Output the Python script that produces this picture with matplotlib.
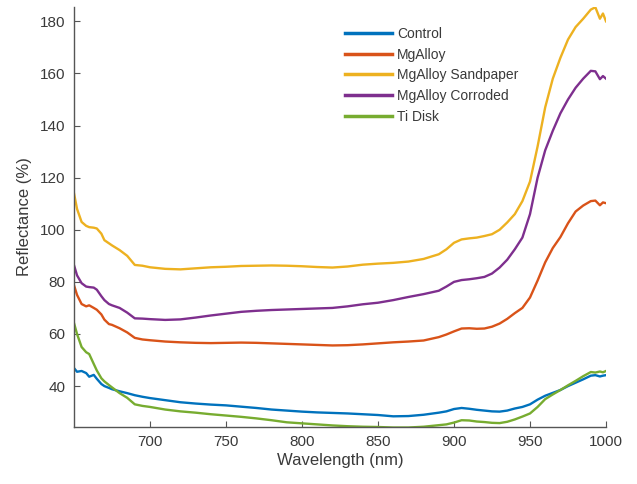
import matplotlib
matplotlib.use("Agg")
import matplotlib.pyplot as plt

wavelength = [650, 652, 655, 658, 660, 663, 665, 668, 670, 673, 675, 680, 685, 690, 695,
              700, 710, 720, 730, 740, 750, 760, 770, 780, 790, 800, 810, 820, 830, 840,
              850, 860, 870, 880, 890, 895, 900, 905, 910, 915, 920, 925, 930, 935, 940,
              945, 950, 955, 960, 965, 970, 975, 980, 985, 990, 993, 996, 998, 1000]

control = [46.9, 45.5, 45.8, 45.0, 43.6, 44.3, 42.8, 40.8, 40.0, 39.3, 38.8, 38.0, 37.3, 36.5, 35.9,
           35.4, 34.6, 33.8, 33.3, 32.9, 32.6, 32.1, 31.6, 31.0, 30.6, 30.2, 29.9, 29.7, 29.5, 29.2,
           28.9, 28.4, 28.5, 29.0, 29.8, 30.3, 31.2, 31.6, 31.3, 30.9, 30.6, 30.3, 30.2, 30.6, 31.4,
           32.0, 33.0, 34.8, 36.3, 37.4, 38.5, 40.0, 41.3, 42.6, 44.0, 44.2, 43.7, 44.0, 44.2]

mgalloy = [78.7, 75.0, 71.5, 70.6, 71.0, 70.0, 69.3, 67.5, 65.5, 63.8, 63.5, 62.2, 60.6, 58.5, 57.9,
           57.6, 57.1, 56.8, 56.6, 56.5, 56.6, 56.7, 56.6, 56.4, 56.2, 56.0, 55.8, 55.6, 55.7, 56.0,
           56.4, 56.8, 57.1, 57.5, 58.8, 59.8, 61.0, 62.1, 62.2, 62.0, 62.1, 62.8, 64.0, 65.8, 68.0,
           70.0, 74.0, 80.5, 87.5, 93.0, 97.2, 102.5, 107.0, 109.3, 111.0, 111.2, 109.4, 110.5, 110.2]

sandpaper = [114.0, 108.0, 103.0, 101.5, 101.0, 100.8, 100.5, 98.5, 96.0, 94.8, 94.0, 92.2, 90.0, 86.5, 86.2,
             85.6, 85.0, 84.8, 85.2, 85.6, 85.8, 86.1, 86.2, 86.3, 86.2, 86.0, 85.7, 85.5, 85.9, 86.6,
             87.0, 87.3, 87.8, 88.8, 90.6, 92.5, 95.0, 96.3, 96.7, 97.0, 97.6, 98.3, 100.0, 102.8, 106.0,
             111.0, 118.5, 132.0, 147.0, 158.0, 166.0, 173.0, 177.8, 181.0, 184.5, 185.4, 181.0, 183.0, 180.0]

corroded = [86.4, 82.5, 79.5, 78.2, 78.0, 77.8, 77.0, 74.5, 73.0, 71.5, 71.0, 70.0, 68.2, 66.0, 65.9,
            65.7, 65.4, 65.6, 66.3, 67.1, 67.8, 68.5, 68.9, 69.2, 69.4, 69.6, 69.8, 70.0, 70.6, 71.4,
            72.0, 73.0, 74.2, 75.3, 76.6, 78.2, 80.0, 80.7, 81.0, 81.4, 81.9, 83.2, 85.5, 88.5, 92.5,
            97.0, 106.0, 120.0, 130.5, 138.0, 144.7, 150.0, 154.5, 158.0, 161.0, 160.8, 157.8, 159.0, 158.0]

ti_disk = [64.2, 60.0, 55.0, 53.0, 52.3, 48.5, 46.0, 43.0, 41.8, 40.4, 39.5, 37.3, 35.5, 33.0, 32.4,
           32.0, 31.0, 30.3, 29.8, 29.2, 28.7, 28.2, 27.6, 26.9, 26.1, 25.7, 25.3, 24.9, 24.6, 24.4,
           24.3, 24.1, 24.1, 24.4, 25.0, 25.3, 26.0, 26.9, 26.8, 26.4, 26.2, 25.9, 25.8, 26.3, 27.2,
           28.3, 29.5, 32.0, 35.0, 36.8, 38.5, 40.3, 42.0, 43.8, 45.4, 45.2, 45.6, 45.3, 45.8]

labels = ["Control", "MgAlloy", "MgAlloy Sandpaper", "MgAlloy Corroded", "Ti Disk"]
series = [control, mgalloy, sandpaper, corroded, ti_disk]
colors = ["#0072BD", "#D95319", "#EDB120", "#7E2F8E", "#77AC30"]

xticks = [700, 750, 800, 850, 900, 950, 1000]
yticks = [40, 60, 80, 100, 120, 140, 160, 180]

plt.rcParams['font.family'] = ['Liberation Sans', 'DejaVu Sans']

fig = plt.figure(figsize=(6.37, 4.84), dpi=100)
ax = fig.add_axes([74/637, 1 - 427/484, (606 - 74)/637, (427 - 7)/484])

for y, lab, c in zip(series, labels, colors):
    ax.plot(wavelength, y, color=c, lw=1.7, label=lab, clip_on=True)

ax.set_xlim(650, 1000)
ax.set_ylim(24.3, 185.5)
ax.set_xticks(xticks)
ax.set_yticks(yticks)

gray = "#3a3a3a"
for s in ["top", "right"]:
    ax.spines[s].set_visible(False)
for s in ["left", "bottom"]:
    ax.spines[s].set_color("#555555")
    ax.spines[s].set_linewidth(1.0)
ax.tick_params(direction="in", length=4, width=0.8, colors="#555555", labelcolor=gray,
               labelsize=11, pad=6)

ax.set_xlabel("Wavelength (nm)", fontsize=12, color=gray, labelpad=3)
ax.set_ylabel("Reflectance (%)", fontsize=12, color=gray, labelpad=6)

leg = ax.legend(loc="upper left", bbox_to_anchor=(345/637, 1 - 27/484),
                bbox_transform=fig.transFigure, frameon=False, fontsize=10,
                handlelength=3.4, handletextpad=0.35, labelspacing=0.48,
                borderpad=0, borderaxespad=0)
for t in leg.get_texts():
    t.set_color(gray)
for l in leg.get_lines():
    l.set_linewidth(2.5)

fig.savefig("out.png", dpi=100, facecolor="white")
